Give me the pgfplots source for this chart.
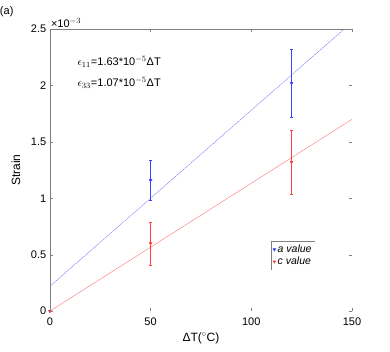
\documentclass[border=0pt]{standalone}
\usepackage{fontspec}
\setmainfont{Liberation Sans}
\usepackage{pgfplots}
\pgfplotsset{compat=1.18}

\begin{document}
\begin{tikzpicture}
\begin{axis}[
    scale only axis, width=302pt, height=282pt,
    xmin=0, xmax=150, ymin=0, ymax=2.5,
    xtick={0,50,100,150}, ytick={0,0.5,1,1.5,2,2.5},
    yticklabels={0,0.5,1,1.5,2,2.5},
    tick align=inside, major tick length=3pt,
    tick style={gray, thin},
    axis line style={draw=none},
    /pgf/number format/assume math mode=true,
    tick label style={font=\fontsize{11}{12}\selectfont},
    xticklabel style={yshift=-3pt},
    label style={font=\fontsize{12}{13}\selectfont},
    xlabel={ΔT($^{\circ}$C)}, ylabel={Strain},
    ylabel style={yshift=4pt},
    clip mode=individual,
    legend style={at={(axis cs:110,0.62)}, anchor=north west, draw=none,
        fill=white, font=\fontsize{10.5}{12}\selectfont\itshape,
        inner sep=1.5pt, row sep=-1pt, cells={anchor=west}, name=leg},
    legend cell align=left,
]
% fitted lines
\addplot[blue!55, thin, dash pattern=on 2pt off 0.6pt, forget plot] coordinates {(0,0.22) (150,2.56)};
\addplot[red!55, thin, forget plot] coordinates {(0,0) (150,1.70)};
% measured values, one plot per point
\addplot[only marks, color=blue!75, line width=0.6pt, mark=triangle*,
    mark options={rotate=180, scale=0.75},
    error bars/.cd, y dir=both, y explicit,
    error mark options={rotate=90, mark size=1.2pt}]
    coordinates {(50,1.16) +- (0,0.18)};
\addplot[only marks, color=red!75, line width=0.6pt, mark=triangle*,
    mark options={rotate=180, scale=0.75},
    error bars/.cd, y dir=both, y explicit,
    error mark options={rotate=90, mark size=1.2pt}]
    coordinates {(50,0.60) +- (0,0.19)};
\addplot[only marks, color=red!75, line width=0.6pt, mark=triangle*,
    mark options={rotate=180, scale=0.75}, forget plot,
    error bars/.cd, y dir=both, y explicit,
    error mark options={rotate=90, mark size=1.2pt}]
    coordinates {(120,1.32) +- (0,0.28)};
\addplot[only marks, color=blue!75, line width=0.6pt, mark=triangle*,
    mark options={rotate=180, scale=0.75}, forget plot,
    error bars/.cd, y dir=both, y explicit,
    error mark options={rotate=90, mark size=1.2pt}]
    coordinates {(120,2.02) +- (0,0.30)};
\addplot[only marks, color=blue!75, mark=triangle*, mark options={rotate=180, scale=0.75}, forget plot]
    coordinates {(0,0)};
\addplot[only marks, color=red!75, mark=triangle*, mark options={rotate=180, scale=0.75}, forget plot]
    coordinates {(0,0)};
\legend{a value, c value}
\draw[gray] (rel axis cs:0,0) -- (rel axis cs:0,1) -- (rel axis cs:1,1);
\node[anchor=west, font=\fontsize{11}{12}\selectfont] at (axis cs:12,2.21)
    {$\epsilon_{11}$=1.63*10$^{-5}$ΔT};
\node[anchor=west, font=\fontsize{11}{12}\selectfont] at (axis cs:12,2.02)
    {$\epsilon_{33}$=1.07*10$^{-5}$ΔT};
\node[anchor=south west, inner sep=1pt, font=\fontsize{11}{12}\selectfont]
    at (rel axis cs:0,1) {×10$^{-3}$};
\node[anchor=west, inner sep=0pt, font=\fontsize{11}{12}\selectfont]
    at ([xshift=-50pt, yshift=17pt]rel axis cs:0,1) {(a)};
\path ([xshift=38pt, yshift=-40pt]rel axis cs:1,0) ([yshift=29pt]rel axis cs:0,1);
\end{axis}
\draw[gray] (leg.south west) -- (leg.north west) -- (leg.north east);
\end{tikzpicture}
\end{document}
